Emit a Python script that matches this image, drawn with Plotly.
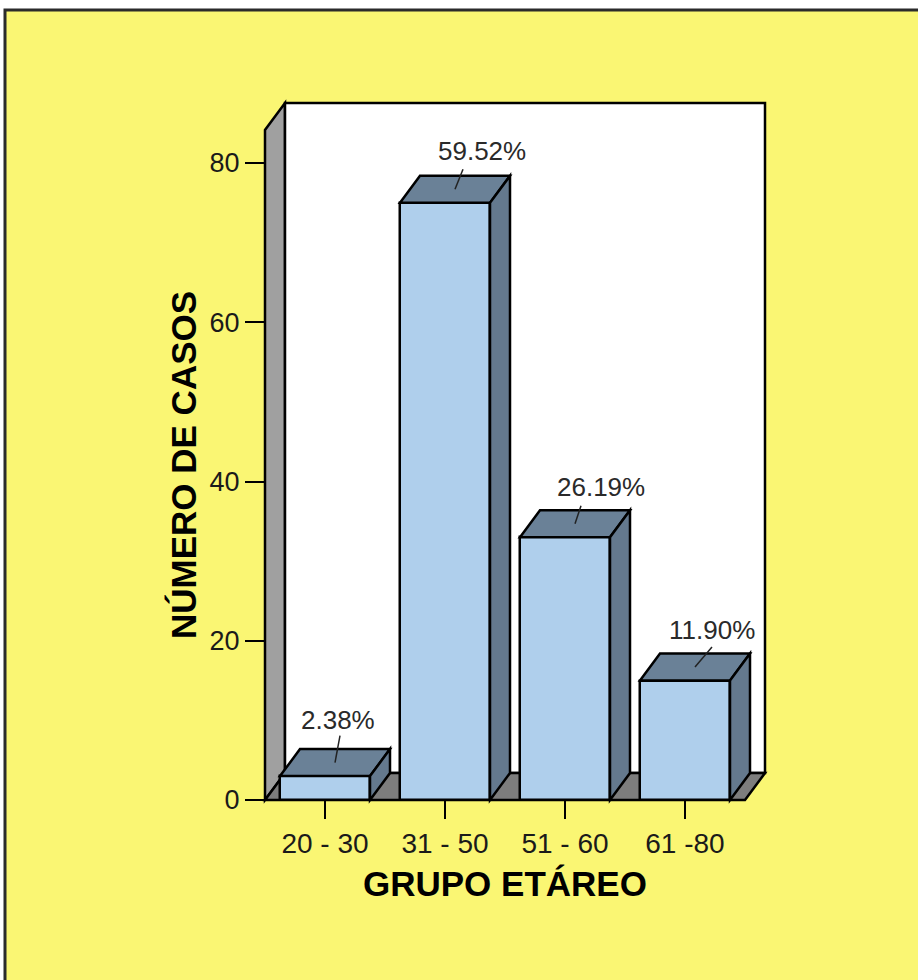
import plotly.graph_objects as go

# ---- data -------------------------------------------------------------
categories = ["20 - 30", "31 - 50", "51 - 60", "61 -80"]
counts = [3, 75, 33, 15]
y_ticks = [0, 20, 40, 60, 80]

total = sum(counts)
percent_labels = [f"{c / total * 100:.2f}%" for c in counts]

# ---- look & geometry (pixels) ---------------------------------------
FIG_W, FIG_H = 918, 980
PX_PER_CAT = 120.0                  # width of one category band
PX_PER_UNIT = (800 - 163) / 80.0    # vertical pixels per case
FRONT_LEFT_PX = 265                 # left edge of the front plane
BASE_PX = 800                       # pixel row of value 0
DX_PX, DY_PX = 20, 27               # depth offset of the 3D box
PAD = 12                            # breathing room around the box
WALL_TOP = (BASE_PX - 130) / PX_PER_UNIT
BAR_W = 0.75
LW = 2.5

YELLOW = "#FAF673"
BAR_FRONT = "#AFCFEC"
BAR_TOP = "#6A8197"
BAR_SIDE = "#64798E"
WALL_SIDE = "#A0A0A0"
FLOOR = "#7D7D7D"
FONT = "Liberation Sans, Arial, sans-serif"

# label / leader offsets from the centre of each bar's top face (px)
LEADER_PX = [(5, -27), (8, -20), (6, -18), (17, -20)]
LABEL_PX = [(3, -43), (27, -38), (26, -37), (17, -37)]

ddx = DX_PX / PX_PER_CAT
ddy = DY_PX / PX_PER_UNIT

x_lo = -0.5 - PAD / PX_PER_CAT
x_hi = 3.5 + ddx + PAD / PX_PER_CAT
y_lo = -PAD / PX_PER_UNIT
y_hi = WALL_TOP + ddy + PAD / PX_PER_UNIT

m_l = FRONT_LEFT_PX - PAD
plot_w = (x_hi - x_lo) * PX_PER_CAT
m_r = FIG_W - m_l - plot_w
m_t = BASE_PX - y_hi * PX_PER_UNIT
plot_h = (y_hi - y_lo) * PX_PER_UNIT
m_b = FIG_H - m_t - plot_h


def to_paper_x(px):
    return (px - m_l) / plot_w


def to_paper_y(py):
    return (m_t + plot_h - py) / plot_h


xs = list(range(len(categories)))

fig = go.Figure()

# front faces of the bars
fig.add_trace(go.Bar(
    x=xs, y=counts, width=BAR_W,
    marker=dict(color=BAR_FRONT, line=dict(color="black", width=LW)),
    hoverinfo="skip",
))

shapes = []

# outer yellow panel with its frame
shapes.append(dict(
    type="rect", xref="paper", yref="paper", layer="below",
    x0=to_paper_x(5), x1=to_paper_x(FIG_W + 20),
    y0=to_paper_y(FIG_H + 20), y1=to_paper_y(10),
    fillcolor=YELLOW, line=dict(color="#2b2b2b", width=3),
))

edge = dict(color="black", width=LW)

# left wall
shapes.append(dict(
    type="path", xref="x", yref="y", layer="below",
    path=f"M -0.5,0 L -0.5,{WALL_TOP} L {-0.5 + ddx},{WALL_TOP + ddy} "
         f"L {-0.5 + ddx},{ddy} Z",
    fillcolor=WALL_SIDE, line=edge,
))
# back wall
shapes.append(dict(
    type="rect", xref="x", yref="y", layer="below",
    x0=-0.5 + ddx, x1=3.5 + ddx, y0=ddy, y1=WALL_TOP + ddy,
    fillcolor="white", line=edge,
))
# floor
shapes.append(dict(
    type="path", xref="x", yref="y", layer="below",
    path=f"M -0.5,0 L 3.5,0 L {3.5 + ddx},{ddy} L {-0.5 + ddx},{ddy} Z",
    fillcolor=FLOOR, line=edge,
))

annotations = []
h = BAR_W / 2
for x, v, lab, (lx, ly), (ox, oy) in zip(xs, counts, percent_labels,
                                         LEADER_PX, LABEL_PX):
    # top face
    shapes.append(dict(
        type="path", xref="x", yref="y", layer="above",
        path=f"M {x - h},{v} L {x - h + ddx},{v + ddy} "
             f"L {x + h + ddx},{v + ddy} L {x + h},{v} Z",
        fillcolor=BAR_TOP, line=edge,
    ))
    # right side face
    shapes.append(dict(
        type="path", xref="x", yref="y", layer="above",
        path=f"M {x + h},0 L {x + h + ddx},{ddy} "
             f"L {x + h + ddx},{v + ddy} L {x + h},{v} Z",
        fillcolor=BAR_SIDE, line=edge,
    ))
    cx, cy = x + ddx / 2, v + ddy / 2
    # leader line from the top face to the label
    shapes.append(dict(
        type="line", xref="x", yref="y", layer="above",
        x0=cx, y0=cy,
        x1=cx + lx / PX_PER_CAT, y1=cy - ly / PX_PER_UNIT,
        line=dict(color="#222222", width=1.5),
    ))
    annotations.append(dict(
        xref="x", yref="y", x=cx + ox / PX_PER_CAT, y=cy - oy / PX_PER_UNIT,
        text=lab, showarrow=False, xanchor="center", yanchor="middle",
        font=dict(family=FONT, size=26, color="#2a2a2a"),
    ))

# axis titles
annotations.append(dict(
    xref="paper", yref="paper", x=to_paper_x(505), y=to_paper_y(884),
    text="GRUPO ETÁREO", showarrow=False, xanchor="center", yanchor="middle",
    font=dict(family=FONT, size=35, color="black", weight="bold"),
))
annotations.append(dict(
    xref="paper", yref="paper", x=to_paper_x(183), y=to_paper_y(465),
    text="NÚMERO DE CASOS", showarrow=False, textangle=-90,
    xanchor="center", yanchor="middle",
    font=dict(family=FONT, size=35, color="black", weight="bold"),
))

fig.update_layout(
    width=FIG_W, height=FIG_H,
    margin=dict(l=m_l, r=m_r, t=m_t, b=m_b, pad=0, autoexpand=False),
    paper_bgcolor="white",
    plot_bgcolor="rgba(0,0,0,0)",
    showlegend=False,
    shapes=shapes,
    annotations=annotations,
    bargap=0,
    xaxis=dict(
        range=[x_lo, x_hi], anchor="free",
        position=(0 - y_lo) / (y_hi - y_lo),
        tickmode="array", tickvals=xs, ticktext=categories,
        ticks="outside", ticklen=18, tickwidth=2, tickcolor="black",
        showline=False, showgrid=False, zeroline=False,
        tickfont=dict(family=FONT, size=28, color="#1a1a1a"),
        fixedrange=True,
    ),
    yaxis=dict(
        range=[y_lo, y_hi], anchor="free",
        position=(-0.5 - x_lo) / (x_hi - x_lo),
        tickmode="array", tickvals=y_ticks,
        ticks="outside", ticklen=20, tickwidth=2, tickcolor="black",
        showline=False, showgrid=False, zeroline=False,
        tickfont=dict(family=FONT, size=27, color="#1a1a1a"),
        fixedrange=True,
    ),
)

fig.write_html("out.html")
